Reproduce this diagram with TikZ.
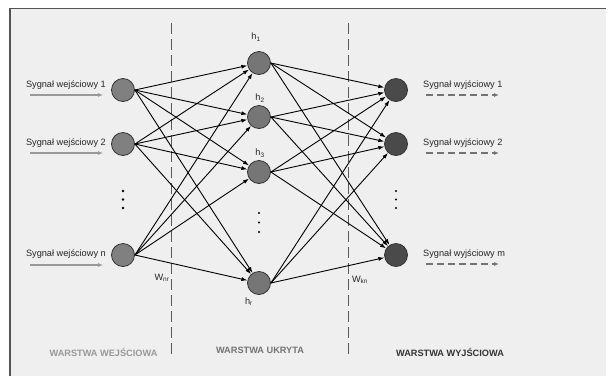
\documentclass[tikz,border=0pt]{standalone}
\usepackage{fontspec}
\setmainfont{Liberation Sans}
\usetikzlibrary{arrows.meta}
\definecolor{bg}{HTML}{EFEFEF}
\definecolor{framec}{HTML}{555555}
\definecolor{incol}{HTML}{808080}
\definecolor{hidcol}{HTML}{767676}
\definecolor{outcol}{HTML}{4A4A4A}
\tikzset{
  neuron/.style={circle,draw=black!80,line width=0.8pt,minimum size=23pt,inner sep=0pt},
  inneuron/.style={neuron,fill=incol},
  hidneuron/.style={neuron,fill=hidcol},
  outneuron/.style={neuron,fill=outcol},
  conn/.style={line width=0.9pt,-{Latex[length=6pt,width=4pt]}},
  siglabel/.style={font=\fontsize{9.2}{10}\selectfont,text=black!85,inner sep=0pt},
  sublabel/.style={font=\fontsize{9.2}{10}\selectfont,text=black!85,inner sep=0pt},
  inarrow/.style={draw=black!40,line width=1.3pt,-{Latex[length=5pt,width=4pt]}},
  outarrow/.style={draw=black!55,line width=1.3pt,dash pattern=on 7pt off 4pt,-{Latex[length=5pt,width=4pt]}},
  divider/.style={draw=black!65,line width=0.9pt,dash pattern=on 11pt off 5pt},
  layerlabel/.style={font=\bfseries\fontsize{9.2}{10}\selectfont,inner sep=0pt},
  dotmark/.style={circle,fill=black,inner sep=0pt,minimum size=2.8pt}
}
\begin{document}
\begin{tikzpicture}[x=1pt,y=-1pt]
\useasboundingbox (0,0) rectangle (608,376);
\fill[white] (0,0) rectangle (608,376);
\fill[bg] (10,8.5) rectangle (606,376);
\draw[framec,line width=1.5pt] (10,376) -- (10,8.5) -- (606,8.5);

% dividers
\draw[divider] (171,23) -- (171,358);
\draw[divider] (348,23) -- (348,358);

% nodes
\node[inneuron] (i1) at (123,90) {};
\node[inneuron] (i2) at (123,144) {};
\node[inneuron] (in) at (123,255) {};
\node[hidneuron] (h1) at (259,63) {};
\node[hidneuron] (h2) at (259,117) {};
\node[hidneuron] (h3) at (259,172) {};
\node[hidneuron] (hr) at (259,283) {};
\node[outneuron] (o1) at (396,90) {};
\node[outneuron] (o2) at (396,144) {};
\node[outneuron] (om) at (396,255) {};

% connections
\foreach \a in {i1,i2,in}{
  \foreach \b in {h1,h2,h3,hr}{
    \draw[conn] (\a.east) -- (\b);
  }
}
\foreach \a in {h1,h2,h3,hr}{
  \foreach \b in {o1,o2,om}{
    \draw[conn] (\a.east) -- (\b);
  }
}

% dots
\node[dotmark] (d1) at (123,191) {};
\node[dotmark] (d2) at (123,199.5) {};
\node[dotmark] (d3) at (123,208) {};
\node[dotmark,minimum size=2.2pt] (d4) at (259,213) {};
\node[dotmark,minimum size=2.2pt] (d5) at (259,222.5) {};
\node[dotmark,minimum size=2.2pt] (d6) at (259,232) {};
\node[dotmark,minimum size=2.2pt] (d7) at (396,191) {};
\node[dotmark,minimum size=2.2pt] (d8) at (396,199.5) {};
\node[dotmark,minimum size=2.2pt] (d9) at (396,208) {};

% input labels and arrows
\node[siglabel,anchor=east] (li1) at (106,85) {Sygnał wejściowy 1};
\node[siglabel,anchor=east] (li2) at (106,143) {Sygnał wejściowy 2};
\node[siglabel,anchor=east] (lin) at (106,254) {Sygnał wejściowy n};
\coordinate (ai1s) at (30,95); \coordinate (ai1e) at (103,95);
\coordinate (ai2s) at (30,153); \coordinate (ai2e) at (103,153);
\coordinate (ains) at (30,265); \coordinate (aine) at (103,265);
\draw[inarrow] (ai1s) -- (ai1e);
\draw[inarrow] (ai2s) -- (ai2e);
\draw[inarrow] (ains) -- (aine);

% output labels and arrows
\node[siglabel,anchor=west] (lo1) at (423,85) {Sygnał wyjściowy 1};
\node[siglabel,anchor=west] (lo2) at (423,143) {Sygnał wyjściowy 2};
\node[siglabel,anchor=west] (lom) at (423,254) {Sygnał wyjściowy m};
\coordinate (ao1s) at (426,95); \coordinate (ao1e) at (499,95);
\coordinate (ao2s) at (426,153); \coordinate (ao2e) at (499,153);
\coordinate (aoms) at (426,264); \coordinate (aome) at (499,264);
\draw[outarrow] (ao1s) -- (ao1e);
\draw[outarrow] (ao2s) -- (ao2e);
\draw[outarrow] (aoms) -- (aome);

% hidden labels
\node[sublabel] (lh1) at (256,37) {h\textsubscript{1}};
\node[sublabel] (lh2) at (260,98) {h\textsubscript{2}};
\node[sublabel] (lh3) at (260,153) {h\textsubscript{3}};
\node[sublabel] (lhr) at (249,302) {h\textsubscript{r}};

% weight labels
\node[sublabel] (wnr) at (162,278) {W\textsubscript{nr}};
\node[sublabel] (wkn) at (360,280) {W\textsubscript{kn}};

% layer labels
\node[layerlabel,text=black!40] (L1) at (103.5,352) {WARSTWA WEJŚCIOWA};
\node[layerlabel,text=black!55] (L2) at (260,350) {WARSTWA UKRYTA};
\node[layerlabel,text=black!80] (L3) at (450,352) {WARSTWA WYJŚCIOWA};
\end{tikzpicture}
\end{document}
